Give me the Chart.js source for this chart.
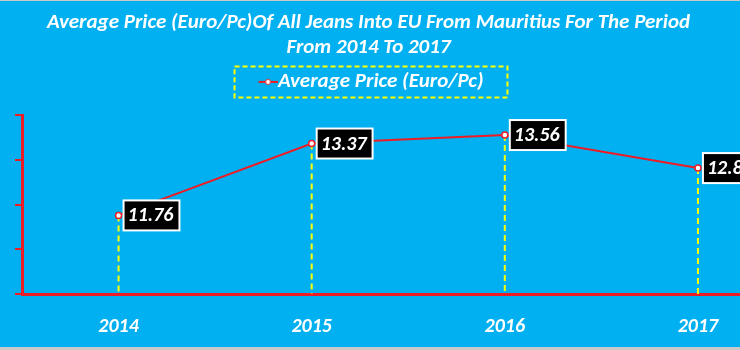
<!DOCTYPE html>
<html>
<head>
<meta charset="utf-8">
<title>Average Price (Euro/Pc) of Jeans from Mauritius</title>
<script src="https://cdn.jsdelivr.net/npm/chart.js@4.4.0/dist/chart.umd.js"></script>
<style>
  html, body { margin: 0; padding: 0; width: 740px; height: 350px; overflow: hidden; background: #00b0f0; }
  .chart-wrap { position: absolute; left: -60px; top: 0; width: 860px; height: 350px; }
  .frame { position: absolute; left: 0; top: 0; width: 740px; height: 350px; box-sizing: border-box;
           border-top: 1px solid #c9c9c9; border-bottom: 3px solid #c9c9c9; pointer-events: none; }
</style>
</head>
<body>
<div class="chart-wrap"><canvas id="price-chart" width="860" height="350"></canvas></div>
<div class="frame"></div>
<script>
// data
const years = ['2014', '2015', '2016', '2017'];
const avgPrice = [11.76, 13.37, 13.56, 12.82];
const yTicks = [10, 11, 12, 13, 14];

const titleLines = ['Average Price (Euro/Pc)Of All Jeans Into EU From Mauritius For The Period', 'From 2014 To 2017'];
const seriesName = 'Average Price (Euro/Pc)';

const FONT = 'Carlito, Lato, sans-serif';
const WEIGHT = 'bold';
const RED = '#ee1c25';
const YELLOW = '#ffff00';

// legend symbol: short line with a dot, drawn in the right part of the canvas
// so it sits right up against the label text
function makeLegendMarker() {
    const c = document.createElement('canvas');
    c.width = 34;
    c.height = 10;
    const g = c.getContext('2d');
    g.strokeStyle = RED;
    g.lineWidth = 2;
    g.beginPath();
    g.moveTo(15, 5);
    g.lineTo(34, 5);
    g.stroke();
    g.fillStyle = '#fff';
    g.lineWidth = 1;
    g.beginPath();
    g.arc(24.5, 5, 2.6, 0, Math.PI * 2);
    g.fill();
    g.stroke();
    return c;
}

// dashed drop lines from each point down to the x axis
const dropLines = {
    id: 'dropLines',
    beforeDatasetsDraw(chart) {
        const { ctx, chartArea } = chart;
        const meta = chart.getDatasetMeta(0);
        ctx.save();
        ctx.strokeStyle = YELLOW;
        ctx.lineWidth = 2;
        ctx.setLineDash([6, 4]);
        meta.data.forEach(pt => {
            ctx.beginPath();
            ctx.moveTo(pt.x, pt.y);
            ctx.lineTo(pt.x, chartArea.bottom);
            ctx.stroke();
        });
        ctx.restore();
    }
};

// black value boxes to the right of each point
const valueBoxes = {
    id: 'valueBoxes',
    afterDatasetsDraw(chart) {
        const { ctx } = chart;
        const meta = chart.getDatasetMeta(0);
        const values = chart.data.datasets[0].data;
        ctx.save();
        ctx.font = 'italic ' + WEIGHT + ' 20px ' + FONT;
        ctx.textBaseline = 'middle';
        meta.data.forEach((pt, i) => {
            const text = values[i].toFixed(2);
            const w = ctx.measureText(text).width + 10;
            const x = pt.x + 5;
            const y = pt.y - 15;
            ctx.fillStyle = '#000';
            ctx.fillRect(x, y, w, 30);
            ctx.strokeStyle = '#fff';
            ctx.lineWidth = 2;
            ctx.strokeRect(x, y, w, 30);
            ctx.fillStyle = '#fff';
            ctx.fillText(text, x + 4, pt.y + 1);
        });
        ctx.restore();
    }
};

// dashed yellow frame round the legend
const legendFrame = {
    id: 'legendFrame',
    afterDraw(chart) {
        const hb = chart.legend && chart.legend.legendHitBoxes[0];
        if (!hb) return;
        const { ctx } = chart;
        const cy = hb.top + hb.height / 2;
        ctx.save();
        ctx.strokeStyle = YELLOW;
        ctx.lineWidth = 2;
        ctx.setLineDash([5, 3]);
        ctx.strokeRect(hb.left - 19, cy - 15.5, hb.width + 43, 31);
        ctx.restore();
    }
};

const ctx = document.getElementById('price-chart').getContext('2d');
new Chart(ctx, {
    type: 'line',
    data: {
        labels: years,
        datasets: [{
            label: seriesName,
            data: avgPrice,
            borderColor: RED,
            borderWidth: 2,
            tension: 0,
            pointRadius: 3,
            pointBorderWidth: 1.5,
            pointBackgroundColor: '#fff',
            pointBorderColor: RED
        }]
    },
    options: {
        responsive: false,
        animation: false,
        layout: { padding: { right: 3 } },
        plugins: {
            title: {
                display: true,
                text: titleLines,
                color: '#fff',
                font: { family: FONT, size: 21, weight: WEIGHT, style: 'italic', lineHeight: 1.2 },
                padding: { top: 10, bottom: 6 }
            },
            legend: {
                display: true,
                labels: {
                    color: '#fff',
                    font: { family: FONT, size: 21, weight: WEIGHT, style: 'italic' },
                    padding: 5,
                    usePointStyle: true,
                    pointStyle: makeLegendMarker(),
                    pointStyleWidth: 14
                }
            },
            tooltip: { enabled: false }
        },
        scales: {
            x: {
                offset: true,
                grid: { display: false, drawTicks: false },
                border: { display: true, color: RED, width: 3 },
                ticks: {
                    color: '#fff',
                    padding: 21,
                    font: { family: FONT, size: 20, weight: WEIGHT, style: 'italic' }
                },
                afterFit(scale) { scale.height = 56; }
            },
            // empty strip between the legend and the plot
            gap: {
                type: 'category',
                position: 'top',
                grid: { display: false, drawTicks: false },
                border: { display: false },
                ticks: { display: false },
                afterFit(scale) { scale.height = 13; }
            },
            y: {
                min: yTicks[0],
                max: yTicks[yTicks.length - 1],
                ticks: { display: false, stepSize: 1 },
                grid: { drawOnChartArea: false, color: RED, lineWidth: 2, tickLength: 7 },
                border: { display: true, color: RED, width: 3 },
                afterFit(scale) { scale.width = 82; }
            }
        }
    },
    plugins: [dropLines, valueBoxes, legendFrame]
});
</script>
</body>
</html>
